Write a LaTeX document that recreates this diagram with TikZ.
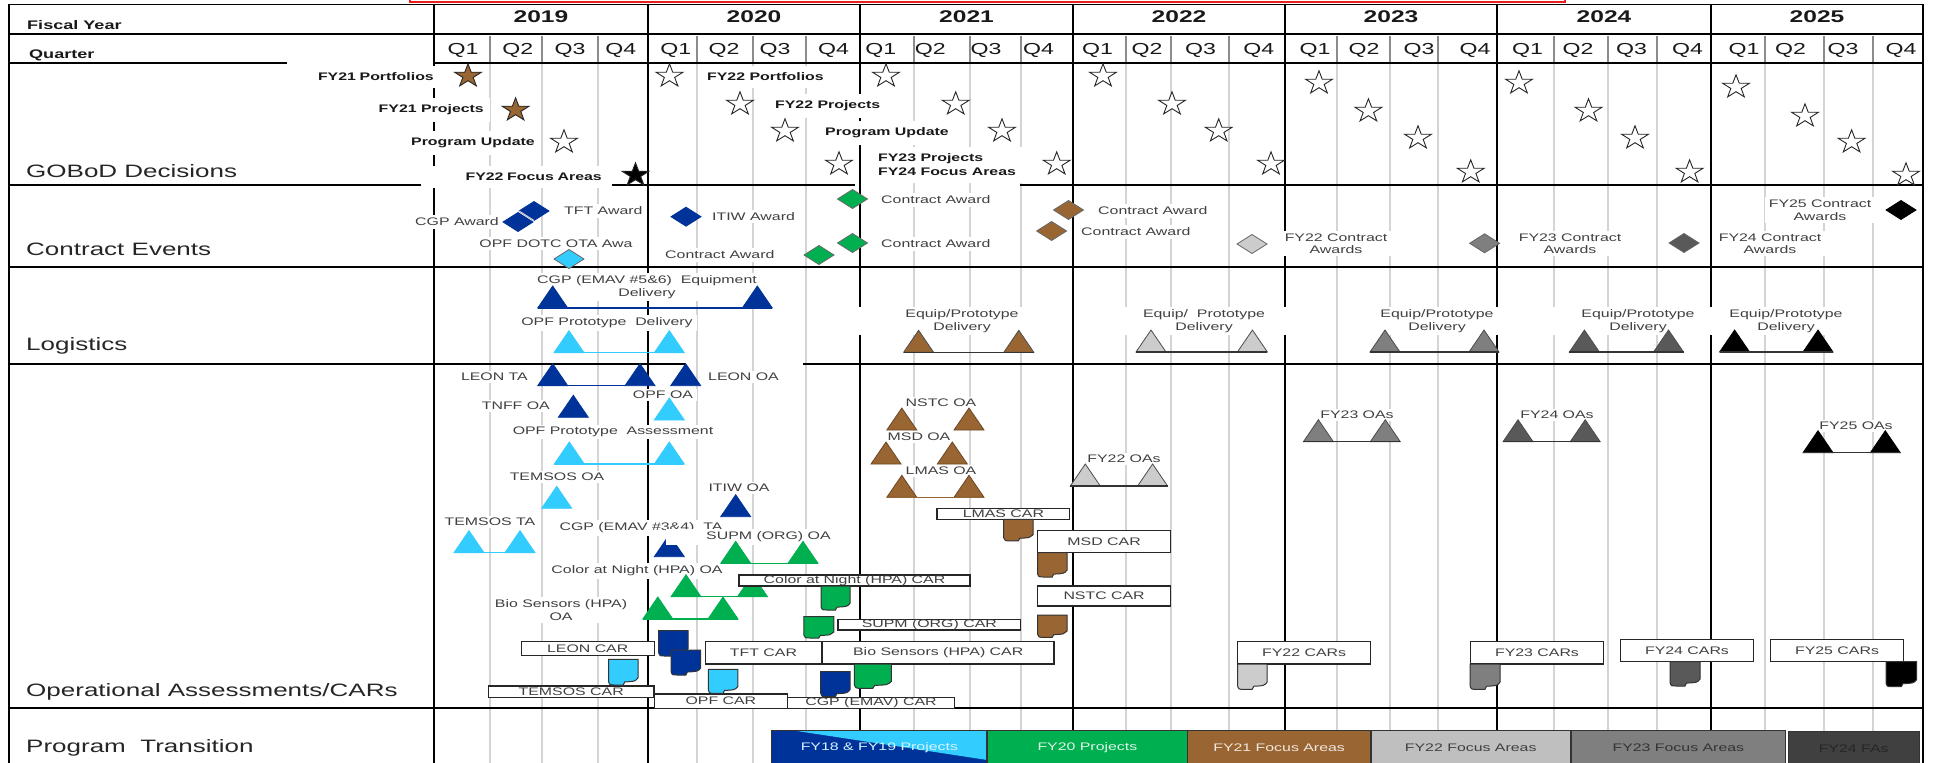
\documentclass[tikz,border=0pt]{standalone}
\usepackage{fontspec}
\setmainfont{Liberation Sans}[FakeStretch=1.45]
\usetikzlibrary{calc}
\definecolor{cdblue}{RGB}{0,51,153}
\definecolor{clblue}{RGB}{51,204,255}
\definecolor{cgreen}{RGB}{0,176,80}
\definecolor{cbrown}{RGB}{153,102,51}
\definecolor{clgray}{RGB}{204,204,204}
\definecolor{cmgray}{RGB}{127,127,127}
\definecolor{cdgray}{RGB}{89,89,89}
\definecolor{cbarfour}{RGB}{64,64,64}
\definecolor{cqline}{RGB}{212,212,212}
\definecolor{ctext}{RGB}{64,64,64}
\definecolor{credbox}{RGB}{235,30,30}

\newcommand\mystar[4]{%
  \coordinate (#1) at (#2,#3);
  \filldraw[fill=#4, draw=black!85, line width=0.9, line join=miter]
    plot[samples at={0,...,9}] ({#2+1.16*ifthenelse(mod(\x,2)==0,12.2,4.7)*cos(-90+36*\x)},{#3+ifthenelse(mod(\x,2)==0,12.2,4.7)*sin(-90+36*\x)}) -- cycle;}
\newcommand\mydia[5]{%
  \coordinate (#1) at (#2,#3);
  \filldraw[fill=#4, draw=#5, line width=0.8] (#2-15,#3) -- (#2,#3-9.5) -- (#2+15,#3) -- (#2,#3+9.5) -- cycle;}
\newcommand\mytri[5]{%
  \coordinate (#1) at (#2,#3);
  \filldraw[fill=#4, draw=#5, line width=0.8] (#2-15,#3) -- (#2,#3-22) -- (#2+15,#3) -- cycle;}
\newcommand\mydoc[6]{%
  \coordinate (#1) at (#2,#3);
  \filldraw[fill=#6, draw=black!80, line width=1] (#2,#3) -- (#2+#4,#3) -- (#2+#4,#3+0.72*#5)
    .. controls (#2+0.9*#4,#3+0.86*#5) .. (#2+0.55*#4,#3+0.88*#5) -- (#2+0.5*#4,#3+#5) -- (#2+0.2*#4,#3+#5)
    .. controls (#2+0.04*#4,#3+#5) .. (#2,#3+0.86*#5) -- cycle;}

\tikzset{
  gridline/.style={draw=black, line width=1.3},
  lab/.style={fill=white, inner xsep=4, inner ysep=2.5, text=ctext, font=\fontsize{11}{12.5}\selectfont, align=center},
  blab/.style={fill=white, inner xsep=6, inner ysep=7, text=black!90, font=\bfseries\fontsize{11}{14}\selectfont, align=left},
  sect/.style={anchor=west, inner sep=0, text=black!85, font=\fontsize{18}{20}\selectfont},
  hdb/.style={anchor=west, inner sep=0, font=\bfseries\fontsize{12.5}{14}\selectfont, text=black!90},
  yr/.style={inner sep=0, font=\bfseries\fontsize{17}{18}\selectfont, text=black!90},
  qt/.style={inner sep=0, font=\fontsize{16}{17}\selectfont, text=black!90},
  carbox/.style={draw=black!85, line width=1.3, fill=white, inner sep=0, text=ctext, font=\fontsize{11}{12}\selectfont},
  barsty/.style={draw=black!80, line width=1, inner sep=0, font=\fontsize{11}{12}\selectfont},
  conn/.style={draw=#1, line width=1.4},
}

\begin{document}
\begin{tikzpicture}[x=1bp, y=-1bp]
\useasboundingbox (0,0) rectangle (1935,763);
\fill[white] (0,0) rectangle (1935,763);

% quarter lines
\foreach \q in {490,542,598,697,753,806,914,970,1021,1126,1171,1229,1337,1390,1438,1554,1608,1657,1765,1824,1873}{
  \draw[cqline, line width=1.8] (\q,63) -- (\q,770);
  \draw[black!45, line width=1.1] (\q,36) -- (\q,63);
}

% horizontal rules
\draw[gridline] (9,4.5) -- (1923,4.5);
\draw[gridline] (9,34) -- (1923,34);
\draw[gridline] (9,63) -- (287,63);
\draw[gridline] (434,63) -- (1923,63);
\draw[gridline] (9,185) -- (421,185);
\draw[gridline] (612,185) -- (855,185);
\draw[gridline] (1020,185) -- (1923,185);
\draw[gridline] (9,267) -- (1923,267);
\draw[gridline] (9,364) -- (686,364);
\draw[gridline] (803,364) -- (1923,364);
\draw[gridline] (9,708) -- (1923,708);
% vertical rules
\draw[gridline] (9,4) -- (9,770);
\draw[gridline] (1923,4) -- (1923,770);
\foreach \v in {648,860,1073,1285,1497}{\draw[gridline] (\v,4) -- (\v,770);}
\draw[gridline, line width=2.8] (434,4) -- (434,770);
\draw[gridline, line width=2.8] (1711,4) -- (1711,770);

% red frame edge at top
\draw[credbox, line width=2.2] (410,-8) rectangle (1565,1.6);

% header
\node[hdb] (hfy) at (27,25) {Fiscal Year};
\node[hdb] (hq) at (29,55) {Quarter};
\foreach \c/\t in {541/2019,754/2020,966.5/2021,1179/2022,1391/2023,1604/2024,1817/2025}{
  \node[yr] (yr\t) at (\c,17) {\t};}
\foreach \c/\t [count=\i] in {463/Q1,517.7/Q2,570/Q3,620.8/Q4,675.8/Q1,724/Q2,775/Q3,833.6/Q4,880.7/Q1,930.4/Q2,986/Q3,1038.6/Q4,1097.5/Q1,1147/Q2,1200.6/Q3,1258.7/Q4,1315/Q1,1364/Q2,1419/Q3,1475/Q4,1527.5/Q1,1578/Q2,1631.5/Q3,1687.5/Q4,1744/Q1,1790.6/Q2,1843/Q3,1901/Q4}{
  \node[qt] (qq\i) at (\c,50) {\t};}

% section labels
\node[sect] (sgob) at (26,171) {GOBoD Decisions};
\node[sect] (scon) at (26,249) {Contract Events};
\node[sect] (slog) at (26,346) {Logistics};
\node[sect] (sops) at (26,692) {Operational Assessments/CARs};
\node[sect] (sprg) at (26,748) {Program~ Transition};

% GOBoD labels
\node[blab, anchor=east, text width=141, align=right] (g1) at (440,77) {FY21 Portfolios};
\node[blab, anchor=east] (g2) at (490,110) {FY21 Projects};
\node[blab, anchor=east] (g3) at (541,143) {Program Update};
\node[blab, anchor=east, text width=175, align=right] (g4) at (608,177) {FY22 Focus Areas};
\node[blab, anchor=west] (g5) at (701,77) {FY22 Portfolios};
\node[blab, anchor=west] (g6) at (769,106) {FY22 Projects};
\node[blab, anchor=west] (g7) at (819,133) {Program Update};
\node[blab, anchor=west] (g8) at (872,165) {FY23 Projects\\FY24 Focus Areas};

% stars
\mystar{s1}{468}{76}{cbrown}
\mystar{s2}{515.6}{110}{cbrown}
\mystar{s3}{564}{142}{white}
\mystar{s4}{635.5}{175}{black}
\foreach \sx/\sy [count=\i] in {669.5/76,886/76,1103/76,740/104,955.7/104,1172/104,785/131,1002/131,1218.7/131,839/164,1056.7/164,1271/164,1319/83,1368.4/111,1418/138,1470.7/172,1519/83,1588.5/111,1635/138,1689.6/172,1736/87,1805/116,1851.6/142,1906/175}{
  \mystar{sw\i}{\sx}{\sy}{white}}

% contract labels
\node[lab, anchor=east] (c1) at (503,222) {CGP Award};
\node[lab, anchor=west] (c2) at (560,211) {TFT Award};
\node[lab, anchor=west] (c3) at (708,216.5) {ITIW Award};
\node[lab] (c4) at (556,243.5) {OPF DOTC OTA Awa};
\node[lab, anchor=west] (c5) at (661,255) {Contract Award};
\node[lab, anchor=west] (c6) at (877,200) {Contract Award};
\node[lab, anchor=west] (c7) at (877,244) {Contract Award};
\node[lab, anchor=west] (c8) at (1094,211) {Contract Award};
\node[lab, anchor=west] (c9) at (1077,232) {Contract Award};
\node[lab] (c10) at (1336,243.5) {FY22 Contract\\Awards};
\node[lab] (c11) at (1570,243.5) {FY23 Contract\\Awards};
\node[lab] (c12) at (1770,243.5) {FY24 Contract\\Awards};
\node[lab] (c13) at (1820,210) {FY25 Contract\\Awards};

% diamonds
\mydia{cd1}{518}{222}{cdblue}{cdblue}
\mydia{cd2}{534}{211}{cdblue}{cdblue}
\draw[white!60!gray, line width=1.1] ($(cd2)+(-15,0)$) -- ($(cd2)+(0,9.5)$);
\mydia{cd3}{686}{216.7}{cdblue}{cdblue}
\mydia{cd4}{569}{259}{clblue}{black!60}
\mydia{cd5}{819}{255}{cgreen}{black!60}
\mydia{cd6}{852.5}{199}{cgreen}{black!60}
\mydia{cd7}{852.5}{243}{cgreen}{black!60}
\mydia{cd8}{1068.5}{210}{cbrown}{black!60}
\mydia{cd9}{1051.6}{231}{cbrown}{black!60}
\mydia{cd10}{1252}{244}{clgray}{black!60}
\mydia{cd11}{1484.6}{243.3}{cmgray}{black!60}
\mydia{cd12}{1684}{243}{cdgray}{black!60}
\mydia{cd13}{1901}{210}{black}{black}

% logistics labels
\node[lab] (l1) at (647,287) {CGP (EMAV \#5\&6)~ Equipment\\Delivery};
\node[lab] (l2) at (607,323) {OPF Prototype~ Delivery};
\node[lab, minimum width=210] (l3) at (962,321) {Equip/Prototype\\Delivery};
\node[lab, minimum width=170] (l4) at (1204,321) {Equip/~ Prototype\\Delivery};
\node[lab, minimum width=170] (l5) at (1437,321) {Equip/Prototype\\Delivery};
\node[lab, minimum width=170] (l7) at (1786,321) {Equip/Prototype\\Delivery};
\node[lab, minimum width=170] (l6) at (1638,321) {Equip/Prototype\\Delivery};

% logistics triangles
\mytri{lt1}{552.7}{308}{cdblue}{cdblue}
\mytri{lt2}{757.3}{308}{cdblue}{cdblue}
\mytri{lt3}{569}{352.7}{clblue}{clblue}
\mytri{lt4}{669.3}{352.7}{clblue}{clblue}
\mytri{lt5}{918.6}{352.3}{cbrown}{black!70}
\mytri{lt6}{1018.8}{352.3}{cbrown}{black!70}
\mytri{lt7}{1151}{352}{clgray}{black!70}
\mytri{lt8}{1252.4}{352}{clgray}{black!70}
\mytri{lt9}{1385}{352}{cmgray}{black!70}
\mytri{lt10}{1484}{352}{cmgray}{black!70}
\mytri{lt11}{1584.4}{352}{cdgray}{black!70}
\mytri{lt12}{1668.5}{352}{cdgray}{black!70}
\mytri{lt13}{1734.6}{352}{black}{black}
\mytri{lt14}{1818}{352}{black}{black}
\draw[conn=cdblue] ([xshift=-15bp]lt1) -- ([xshift=15bp]lt2);
\draw[conn=clblue] ([xshift=-15bp]lt3) -- ([xshift=15bp]lt4);
\draw[conn=black!80] ([xshift=-15bp]lt5) -- ([xshift=15bp]lt6);
\draw[conn=black!80] ([xshift=-15bp]lt7) -- ([xshift=15bp]lt8);
\draw[conn=black!80] ([xshift=-15bp]lt9) -- ([xshift=15bp]lt10);
\draw[conn=black!80] ([xshift=-15bp]lt11) -- ([xshift=15bp]lt12);
\draw[conn=black!80] ([xshift=-15bp]lt13) -- ([xshift=15bp]lt14);

% ops labels
\node[lab, anchor=east] (o1) at (532,377) {LEON TA};
\node[lab, anchor=west] (o2) at (704,377) {LEON OA};
\node[lab, anchor=east] (o3) at (554,406) {TNFF OA};
\node[lab] (o4) at (663,395) {OPF OA};
\node[lab] (o5) at (613,432) {OPF Prototype~ Assessment};
\node[lab] (o6) at (557,477) {TEMSOS OA};
\node[lab] (o7) at (739,488) {ITIW OA};
\node[lab] (o8) at (490,522) {TEMSOS TA};
\node[lab] (o9) at (641,528) {CGP (EMAV \#3\&4)~ TA};
\node[lab] (o11) at (637,571) {Color at Night (HPA) OA};
\node[lab] (o12) at (561,610) {Bio Sensors (HPA)\\OA};
\node[lab] (o13) at (941,403) {NSTC OA};
\node[lab] (o14) at (919,437) {MSD OA};
\node[lab] (o15) at (941,471) {LMAS OA};
\node[lab] (o16) at (1124,459) {FY22 OAs};
\node[lab] (o17) at (1357,415) {FY23 OAs};
\node[lab] (o18) at (1557,415) {FY24 OAs};
\node[lab] (o19) at (1856,426) {FY25 OAs};

% ops triangles
\mytri{ot1}{552.7}{385.7}{cdblue}{cdblue}
\mytri{ot2}{640}{385.7}{cdblue}{cdblue}
\mytri{ot3}{685.7}{385.7}{cdblue}{cdblue}
\mytri{ot4}{573.3}{417.3}{cdblue}{cdblue}
\mytri{ot5}{669.3}{420}{clblue}{clblue}
\mytri{ot6}{569.3}{464}{clblue}{clblue}
\mytri{ot7}{669.3}{464}{clblue}{clblue}
\mytri{ot8}{556.7}{508.3}{clblue}{clblue}
\mytri{ot9}{735.7}{516.7}{cdblue}{cdblue}
\mytri{ot10}{469}{552.7}{clblue}{clblue}
\mytri{ot11}{520}{552.7}{clblue}{clblue}
\mytri{ot12}{669.3}{556.7}{cdblue}{cdblue}
\node[lab, anchor=west] (o10) at (666,537) {\hspace{36bp}SUPM (ORG) OA};
\mytri{ot13}{735.7}{563.3}{cgreen}{cgreen}
\mytri{ot14}{803}{563.3}{cgreen}{cgreen}
\mytri{ot15}{686}{596.7}{cgreen}{cgreen}
\mytri{ot16}{752.5}{596.7}{cgreen}{cgreen}
\mytri{ot17}{657.8}{619}{cgreen}{cgreen}
\mytri{ot18}{723}{619}{cgreen}{cgreen}
\mytri{ot19}{901.8}{430}{cbrown}{cbrown!70!black}
\mytri{ot20}{969}{430}{cbrown}{cbrown!70!black}
\mytri{ot21}{886}{464}{cbrown}{cbrown!70!black}
\mytri{ot22}{952.3}{464}{cbrown}{cbrown!70!black}
\mytri{ot23}{901.8}{497.3}{cbrown}{cbrown!70!black}
\mytri{ot24}{969}{497.3}{cbrown}{cbrown!70!black}
\mytri{ot25}{1085.3}{486}{clgray}{black!70}
\mytri{ot26}{1152.6}{486}{clgray}{black!70}
\mytri{ot27}{1318.4}{441.7}{cmgray}{black!70}
\mytri{ot28}{1385.3}{441.7}{cmgray}{black!70}
\mytri{ot29}{1518}{441.7}{cdgray}{black!70}
\mytri{ot30}{1585.2}{441.7}{cdgray}{black!70}
\mytri{ot31}{1818}{452.7}{black}{black}
\mytri{ot32}{1885.3}{452.7}{black}{black}
\draw[conn=cdblue] ([xshift=-15bp]ot1) -- ([xshift=-15bp]ot2);
\draw[conn=clblue] ([xshift=-15bp]ot6) -- ([xshift=15bp]ot7);
\draw[conn=clblue] ([xshift=-15bp]ot10) -- ([xshift=15bp]ot11);
\draw[conn=cgreen] ([xshift=-15bp]ot13) -- ([xshift=15bp]ot14);
\draw[conn=cgreen] ([xshift=-15bp]ot15) -- ([xshift=15bp]ot16);
\draw[conn=cgreen] ([xshift=-15bp]ot17) -- ([xshift=15bp]ot18);
\draw[conn=cbrown] ([xshift=-15bp]ot23) -- ([xshift=15bp]ot24);
\draw[conn=black!80] ([xshift=-15bp]ot25) -- ([xshift=15bp]ot26);
\draw[conn=black!80] ([xshift=-15bp]ot27) -- ([xshift=15bp]ot28);
\draw[conn=black!80] ([xshift=-15bp]ot29) -- ([xshift=15bp]ot30);
\draw[conn=black!80] ([xshift=-15bp]ot31) -- ([xshift=15bp]ot32);

% CAR boxes
\node[carbox, minimum width=232, minimum height=11] (k1) at (854.5,580.5) {Color at Night (HPA) CAR};
\node[carbox, minimum width=183.5, minimum height=10.7] (k2) at (929.3,624.7) {SUPM (ORG) CAR};
\node[carbox, minimum width=133.2, minimum height=11] (k3) at (1003.4,513.8) {LMAS CAR};
\node[carbox, minimum width=133.2, minimum height=22] (k4) at (1104.1,541.7) {MSD CAR};
\node[carbox, minimum width=133.2, minimum height=20] (k5) at (1104.1,596) {NSTC CAR};
\node[carbox, minimum width=232.3, minimum height=22.3] (k6) at (938.2,652.9) {Bio Sensors (HPA) CAR};
\node[carbox, minimum width=117, minimum height=22.3] (k7) at (763.5,652.9) {TFT CAR};
\node[carbox, minimum width=133.4, minimum height=14] (k8) at (587.7,648.7) {LEON CAR};
\node[carbox, minimum width=166.4, minimum height=11.3] (k9) at (571.2,691.7) {TEMSOS CAR};
\node[carbox, minimum width=133, minimum height=14.3] (k10) at (720.9,701.2) {OPF CAR};
\node[carbox, minimum width=167.1, minimum height=11] (k11) at (871,702.8) {CGP (EMAV) CAR};
\node[carbox, minimum width=133.2, minimum height=22.3] (k12) at (1304.1,652.9) {FY22 CARs};
\node[carbox, minimum width=134, minimum height=22.3] (k13) at (1537,652.9) {FY23 CARs};
\node[carbox, minimum width=134, minimum height=22.4] (k14) at (1687,650.5) {FY24 CARs};
\node[carbox, minimum width=134, minimum height=22.4] (k15) at (1837,650.5) {FY25 CARs};

% CAR documents
\mydoc{d1}{821}{586}{29}{24}{cgreen}
\mydoc{d2}{803.8}{616.7}{30}{21.3}{cgreen}
\mydoc{d3}{1003.7}{519.3}{29.3}{21.5}{cbrown}
\mydoc{d4}{1037.5}{552.7}{29.5}{24.3}{cbrown}
\mydoc{d5}{1037.5}{615}{29.5}{22.3}{cbrown}
\mydoc{d6}{658.6}{630.7}{29.4}{25.3}{cdblue}
\mydoc{d7}{671}{650}{29.7}{25}{cdblue}
\mydoc{d8}{608.5}{659.3}{29.5}{25.7}{clblue}
\mydoc{d9}{708.3}{669.3}{29.5}{24}{clblue}
\mydoc{d10}{820.7}{671.7}{29.3}{25}{cdblue}
\mydoc{d11}{854.3}{664}{37}{24.3}{cgreen}
\mydoc{d12}{1237.5}{664}{29.5}{25.3}{clgray}
\mydoc{d13}{1470}{664}{30}{25.3}{cmgray}
\mydoc{d14}{1670}{661.7}{30}{24.3}{cdgray}
\mydoc{d15}{1886}{661.7}{30.7}{25}{black}

% program transition bars
\node[barsty, fill=cdblue, minimum width=215.9, minimum height=36, text=white!80!clblue,
  path picture={\fill[clblue] ([xshift=19bp]path picture bounding box.north west) -- (path picture bounding box.north east) -- ([yshift=6bp]path picture bounding box.south east) -- cycle;}]
  (b18) at (879.35,748) {FY18 \& FY19 Projects};
\node[barsty, fill=cgreen, minimum width=200.2, minimum height=36, text=white!88!cgreen] (b20) at (1087.4,748) {FY20 Projects};
\node[barsty, fill=cbrown, minimum width=183.2, minimum height=36, text=white!85!cbrown] (b21) at (1279.1,748) {FY21 Focus Areas};
\node[barsty, fill=white!75!black, minimum width=200, minimum height=36, text=black!75] (b22) at (1470.7,748) {FY22 Focus Areas};
\node[barsty, fill=cmgray, minimum width=215.3, minimum height=36, text=black!80] (b23) at (1678.35,748) {FY23 Focus Areas};
\node[barsty, fill=cbarfour, minimum width=131.3, minimum height=34.3, text=black!85] (b24) at (1853.65,748.9) {FY24 FAs};
\end{tikzpicture}
\end{document}
